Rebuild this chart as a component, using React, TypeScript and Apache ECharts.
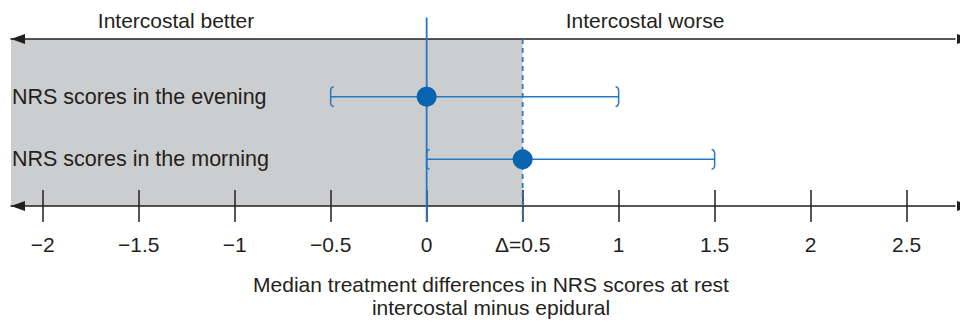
import React, { useEffect, useRef } from 'react';
import * as echarts from 'echarts';

// ---- data ----
const ROWS = ['NRS scores in the morning', 'NRS scores in the evening'];
const MEDIANS = [0.5, 0];
const LOWER = [0, -0.5];
const UPPER = [1.5, 1];
const ZERO = 0;
const DELTA = 0.5;
const TICKS = [-2, -1.5, -1, -0.5, 0, 0.5, 1, 1.5, 2, 2.5];
const TICK_LABELS = ['\u22122', '\u22121.5', '\u22121', '\u22120.5', '0', '\u0394=0.5', '1', '1.5', '2', '2.5'];
const SIDE_LABELS = ['Intercostal better', 'Intercostal worse'];
const AXIS_TITLE = ['Median treatment differences in NRS scores at rest', 'intercostal minus epidural'];
const X_MIN = -2.165;
const X_MAX = 2.752;
const Y_MIN = -0.745;
const Y_MAX = 1.92;

const FONT = '"Liberation Sans", Arial, Helvetica, sans-serif';
const TEXT = '#231f20';
const LINE = '#231f20';
const BLUE_LINE = '#2479c2';
const BLUE_DOT = '#0a63b0';
const GRAY = '#cccdce';

export default function App() {
  const ref = useRef<HTMLDivElement>(null);
  useEffect(() => {
    const chart = echarts.init(ref.current!, null, { renderer: 'svg' });
    const arrowLine = {
      show: true,
      onZero: false,
      lineStyle: { color: LINE, width: 1.5 },
      symbol: ['triangle', 'triangle'],
      symbolSize: [10, 14],
      symbolOffset: [7, 9],
    };
    const tickStyle = { color: LINE, width: 1.5 };
    const labelFor = (v: number) => {
      const i = TICKS.findIndex((t) => Math.abs(t - v) < 1e-9);
      return i >= 0 ? TICK_LABELS[i] : '';
    };
    chart.setOption({
      animation: false,
      grid: { left: 11, right: 5, top: 39, bottom: 116, containLabel: false },
      xAxis: [
        {
          type: 'value', position: 'bottom', min: X_MIN, max: X_MAX, z: 3,
          axisLine: arrowLine,
          axisTick: { show: true, inside: true, length: 16, customValues: TICKS, lineStyle: tickStyle },
          axisLabel: { show: false },
          splitLine: { show: false },
        },
        {
          type: 'value', position: 'bottom', min: X_MIN, max: X_MAX, z: 3,
          axisLine: { show: false, onZero: false },
          axisTick: { show: true, inside: false, length: 16, customValues: TICKS, lineStyle: tickStyle },
          axisLabel: {
            show: true, customValues: TICKS, formatter: labelFor, margin: 28,
            fontSize: 21, fontFamily: FONT, color: TEXT,
          },
          splitLine: { show: false },
        },
        {
          type: 'value', position: 'top', min: X_MIN, max: X_MAX, z: 3,
          axisLine: arrowLine,
          axisTick: { show: false },
          axisLabel: { show: false },
          splitLine: { show: false },
        },
      ],
      yAxis: {
        type: 'value', min: Y_MIN, max: Y_MAX, z: 3,
        axisLine: { show: false, onZero: false },
        axisTick: { show: false },
        splitLine: { show: false },
        axisLabel: {
          show: true, inside: true, customValues: [0, 1],
          formatter: (v: number) => ROWS[Math.round(v)] ?? '',
          margin: 1, fontSize: 21.5, fontFamily: FONT, color: TEXT,
          padding: [5, 0, 0, 0],
        },
      },
      graphic: [
        { type: 'text', x: 176, y: 20, z: 10, style: { text: SIDE_LABELS[0], fill: TEXT, fontSize: 21, fontFamily: FONT, align: 'center', verticalAlign: 'middle' } },
        { type: 'text', x: 645, y: 20, z: 10, style: { text: SIDE_LABELS[1], fill: TEXT, fontSize: 21, fontFamily: FONT, align: 'center', verticalAlign: 'middle' } },
        { type: 'text', x: 491, y: 284, z: 10, style: { text: AXIS_TITLE[0], fill: TEXT, fontSize: 21, fontFamily: FONT, align: 'center', verticalAlign: 'middle' } },
        { type: 'text', x: 491, y: 307, z: 10, style: { text: AXIS_TITLE[1], fill: TEXT, fontSize: 21, fontFamily: FONT, align: 'center', verticalAlign: 'middle' } },
      ],
      series: [
        {
          type: 'custom', z: 1, silent: true, xAxisIndex: 0, yAxisIndex: 0,
          data: [[X_MIN, DELTA]],
          encode: { x: [0, 1] },
          renderItem: (params: any, api: any) => {
            const p1 = api.coord([api.value(0), Y_MAX]);
            const p2 = api.coord([api.value(1), Y_MIN]);
            return { type: 'rect', shape: { x: p1[0], y: p1[1], width: p2[0] - p1[0], height: p2[1] - p1[1] }, style: { fill: GRAY } };
          },
        },
        {
          type: 'custom', z: 4, silent: true, xAxisIndex: 0, yAxisIndex: 0,
          data: [[ZERO, 0], [DELTA, 0]],
          encode: { x: 0, y: 1 },
          renderItem: (params: any, api: any) => {
            const top = api.coord([api.value(0), Y_MAX]);
            const bot = api.coord([api.value(0), Y_MIN]);
            const dashed = params.dataIndex === 1;
            return {
              type: 'line',
              shape: { x1: top[0], y1: dashed ? top[1] : top[1] - 21.5, x2: bot[0], y2: bot[1] + 16 },
              style: { stroke: BLUE_LINE, lineWidth: 1.8, lineDash: dashed ? [5, 4] : null },
            };
          },
        },
        {
          type: 'custom', z: 5, silent: true, xAxisIndex: 0, yAxisIndex: 0,
          data: ROWS.map((_, i) => [LOWER[i], UPPER[i], i]),
          encode: { x: [0, 1], y: 2 },
          renderItem: (params: any, api: any) => {
            const lo = api.coord([api.value(0), api.value(2)]);
            const hi = api.coord([api.value(1), api.value(2)]);
            const y = lo[1];
            const a = lo[0];
            const b = hi[0];
            const style = { stroke: BLUE_LINE, lineWidth: 1.5, fill: 'none' };
            return {
              type: 'group',
              children: [
                { type: 'line', shape: { x1: a, y1: y, x2: b, y2: y }, style },
                { type: 'polyline', shape: { points: [[a + 3, y - 10], [a + 1, y - 9], [a, y - 7], [a, y + 7], [a + 1, y + 9], [a + 3, y + 10]] }, style },
                { type: 'polyline', shape: { points: [[b - 3, y - 10], [b - 1, y - 9], [b, y - 7], [b, y + 7], [b - 1, y + 9], [b - 3, y + 10]] }, style },
              ],
            };
          },
        },
        {
          type: 'scatter', z: 6, silent: true, xAxisIndex: 0, yAxisIndex: 0,
          symbol: 'circle', symbolSize: 20,
          itemStyle: { color: BLUE_DOT, opacity: 1 },
          data: ROWS.map((_, i) => [MEDIANS[i], i]),
        },
      ],
    });
    return () => chart.dispose();
  }, []);
  return <div ref={ref} style={{ position: 'absolute', left: 0, top: 0, width: 960, height: 322 }} />;
}
